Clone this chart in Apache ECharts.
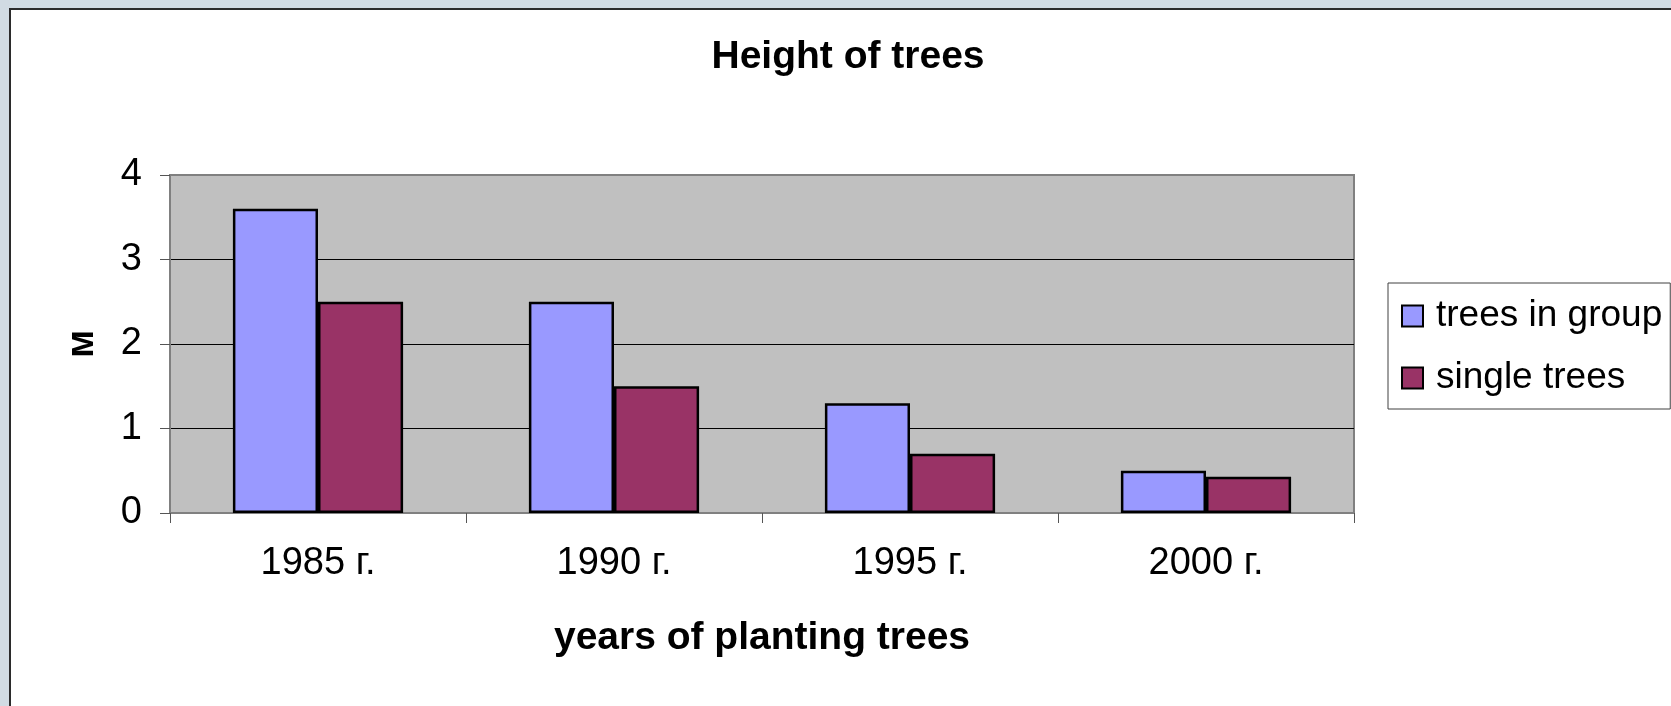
<!DOCTYPE html>
<html>
<head>
<meta charset="utf-8">
<script src="https://cdn.jsdelivr.net/npm/echarts@6/dist/echarts.min.js"></script>
<style>
  html, body { margin: 0; padding: 0; background: #d1dbe3; }
  #chart { width: 1671px; height: 706px; }
</style>
</head>
<body>
<div id="chart"></div>
<script>
const categories = ['1985 г.', '1990 г.', '1995 г.', '2000 г.'];
const treesInGroup = [3.6, 2.5, 1.3, 0.5];
const singleTrees = [2.5, 1.5, 0.7, 0.43];
const seriesNames = ['trees in group', 'single trees'];
const titleText = 'Height of trees';
const xAxisName = 'years of planting trees';
const yAxisName = 'м';

const FONT = '"Liberation Sans", Arial, sans-serif';
const chart = echarts.init(document.getElementById('chart'), null, { renderer: 'canvas' });

chart.setOption({
  backgroundColor: '#d1dbe3',
  animation: false,
  graphic: {
    elements: [{
      type: 'rect',
      z: -100,
      silent: true,
      shape: { x: 10, y: 9, width: 1720, height: 760 },
      style: { fill: '#ffffff', stroke: '#2b2b2b', lineWidth: 2 }
    }]
  },
  title: {
    text: titleText,
    left: 843,
    top: 33,
    textAlign: 'center',
    textStyle: { fontFamily: FONT, fontSize: 39, fontWeight: 'bold', color: '#000' }
  },
  legend: {
    orient: 'vertical',
    left: 1388,
    top: 283,
    padding: [13, 8, 11, 13],
    backgroundColor: '#ffffff',
    borderColor: '#404040',
    borderWidth: 1,
    borderRadius: 0,
    itemWidth: 21,
    itemHeight: 21,
    itemGap: 22,
    icon: 'rect',
    itemStyle: { borderColor: '#000', borderWidth: 2 },
    textStyle: { fontFamily: FONT, fontSize: 37, lineHeight: 40, color: '#000', padding: [0, 0, 0, 8] },
    data: seriesNames
  },
  grid: {
    left: 170,
    right: 317,
    top: 175,
    bottom: 193,
    show: true,
    backgroundColor: '#c0c0c0',
    borderColor: '#808080',
    borderWidth: 2,
    containLabel: false
  },
  xAxis: {
    type: 'category',
    data: categories,
    boundaryGap: true,
    name: xAxisName,
    nameLocation: 'middle',
    nameGap: 106,
    nameTextStyle: { fontFamily: FONT, fontSize: 39, fontWeight: 'bold', color: '#000' },
    axisLine: { show: true, lineStyle: { color: '#808080', width: 2 } },
    axisTick: { show: true, alignWithLabel: false, length: 10, lineStyle: { color: '#555', width: 1 } },
    axisLabel: { margin: 32, fontFamily: FONT, fontSize: 38, color: '#000' },
    splitLine: { show: false }
  },
  yAxis: {
    type: 'value',
    min: 0,
    max: 4,
    interval: 1,
    name: yAxisName,
    nameLocation: 'middle',
    nameRotate: 90,
    nameGap: 68,
    nameTextStyle: { fontFamily: FONT, fontSize: 38, fontWeight: 'bold', color: '#000' },
    axisLine: { show: true, lineStyle: { color: '#808080', width: 1 } },
    axisTick: { show: true, inside: false, length: 10, lineStyle: { color: '#555', width: 1 } },
    axisLabel: { margin: 28, fontFamily: FONT, fontSize: 38, color: '#000' },
    splitLine: { show: true, lineStyle: { color: ['#808080', '#000', '#000', '#000', '#808080'], width: 1 } }
  },
  series: [
    {
      name: seriesNames[0],
      type: 'bar',
      data: treesInGroup,
      barGap: '0%',
      barCategoryGap: '42.5%',
      itemStyle: { color: '#9999ff', borderColor: '#000', borderWidth: 2.5 }
    },
    {
      name: seriesNames[1],
      type: 'bar',
      data: singleTrees,
      barGap: '0%',
      barCategoryGap: '42.5%',
      itemStyle: { color: '#993366', borderColor: '#000', borderWidth: 2.5 }
    }
  ]
});
</script>
</body>
</html>
